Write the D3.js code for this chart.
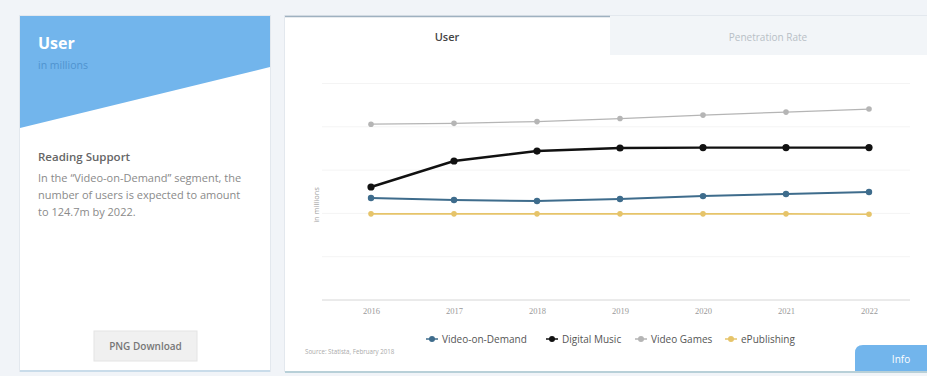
<!DOCTYPE html>
<html>
<head>
<meta charset="utf-8">
<script src="https://cdn.jsdelivr.net/npm/d3@7/dist/d3.min.js"></script>
<style>
  html, body { margin: 0; padding: 0; background: #f1f4f8; }
  svg { display: block; font-family: "Open Sans", "DejaVu Sans", sans-serif; }
</style>
</head>
<body>
<svg id="chart" width="927" height="376"></svg>
<script>
// Users per segment, in millions
const years = ["2016", "2017", "2018", "2019", "2020", "2021", "2022"];
const videoOnDemand = [117.8, 115.5, 114.3, 116.6, 120.0, 122.4, 124.7];
const digitalMusic  = [130.5, 160.5, 172.0, 175.5, 176.0, 176.0, 176.0];
const videoGames    = [203.0, 204.0, 206.0, 209.5, 213.5, 217.0, 220.5];
const ePublishing   = [99.5, 99.5, 99.5, 99.5, 99.5, 99.5, 99.0];
const yTicks = [0, 50, 100, 150, 200, 250];

const series = [
  { name: "Video-on-Demand", values: videoOnDemand, color: "#3e6c8c", width: 2, r: 3.2 },
  { name: "Digital Music",   values: digitalMusic,  color: "#111111", width: 2.4, r: 3.6 },
  { name: "Video Games",     values: videoGames,    color: "#b5b5b5", width: 1.3, r: 2.8 },
  { name: "ePublishing",     values: ePublishing,   color: "#e6c46a", width: 1.6, r: 2.8 }
];

const svg = d3.select("#chart");

// ---- left info card ----
const card = svg.append("g");
card.append("rect").attr("x", 19.5).attr("y", 15.5).attr("width", 251).attr("height", 356)
  .attr("fill", "#ffffff").attr("stroke", "#e3e8ee");
card.append("line").attr("x1", 20).attr("x2", 270).attr("y1", 371).attr("y2", 371)
  .attr("stroke", "#c9dcea").attr("stroke-width", 2);
card.append("path").attr("d", "M20,16 L270,16 L270,67 L20,128 Z").attr("fill", "#72b5ec");
card.append("text").attr("x", 38).attr("y", 49).text("User")
  .attr("fill", "#ffffff").attr("font-size", 16).attr("font-weight", 700);
card.append("text").attr("x", 38).attr("y", 69).text("in millions")
  .attr("fill", "#4f93cf").attr("font-size", 10.5);
card.append("text").attr("x", 38).attr("y", 161).text("Reading Support")
  .attr("fill", "#666666").attr("font-size", 11.5).attr("font-weight", 600);
const para = ["In the \u201cVideo-on-Demand\u201d segment, the",
              "number of users is expected to amount",
              "to 124.7m by 2022."];
para.forEach((t, i) => card.append("text").attr("x", 38).attr("y", 182 + i * 17).text(t)
  .attr("fill", "#8a8a8a").attr("font-size", 11));
card.append("rect").attr("x", 94).attr("y", 331).attr("width", 103).attr("height", 30)
  .attr("fill", "#f0f0f0").attr("stroke", "#e4e4e4");
card.append("text").attr("x", 145.5).attr("y", 350).attr("text-anchor", "middle")
  .text("PNG Download").attr("fill", "#777777").attr("font-size", 10).attr("font-weight", 600);

// ---- right panel with tabs ----
const panel = svg.append("g");
panel.append("rect").attr("x", 284.5).attr("y", 15.5).attr("width", 643).attr("height", 356)
  .attr("fill", "#ffffff").attr("stroke", "#e3e8ee");
panel.append("line").attr("x1", 285).attr("x2", 927).attr("y1", 372).attr("y2", 372)
  .attr("stroke", "#b8d0d8").attr("stroke-width", 2);
panel.append("rect").attr("x", 610).attr("y", 16).attr("width", 317).attr("height", 39)
  .attr("fill", "#f2f5f8");
panel.append("line").attr("x1", 285).attr("x2", 610).attr("y1", 16.5).attr("y2", 16.5)
  .attr("stroke", "#9fb1c0").attr("stroke-width", 1.5);
panel.append("text").attr("x", 447).attr("y", 41).attr("text-anchor", "middle").text("User")
  .attr("fill", "#444444").attr("font-size", 11).attr("font-weight", 600);
panel.append("text").attr("x", 768).attr("y", 41).attr("text-anchor", "middle").text("Penetration Rate")
  .attr("fill", "#b8bfc6").attr("font-size", 10);

// ---- line chart ----
const x = d3.scalePoint().domain(years).range([371, 869]);
const y = d3.scaleLinear().domain([0, 250]).range([300, 83.5]);

const grid = svg.append("g");
grid.selectAll("line").data(yTicks.filter(d => d > 0)).join("line")
  .attr("x1", 322).attr("x2", 910)
  .attr("y1", d => y(d)).attr("y2", d => y(d))
  .attr("stroke", "#f4f4f4").attr("stroke-width", 1);

const xAxis = svg.append("g").attr("transform", "translate(0,300)")
  .call(d3.axisBottom(x).tickSize(0).tickPadding(8));
xAxis.select(".domain").attr("d", "M322,0H910").attr("stroke", "#d6d6d6");
xAxis.selectAll("text").attr("fill", "#9a9a9a").attr("font-size", 8.5)
  .attr("font-family", "Liberation Serif, serif");

svg.append("text").attr("transform", "translate(319,205) rotate(-90)")
  .attr("text-anchor", "middle").text("in millions")
  .attr("fill", "#999999").attr("font-size", 7.5);

const line = d3.line().x((d, i) => x(years[i])).y(d => y(d));
series.forEach(s => {
  const g = svg.append("g");
  g.append("path").datum(s.values).attr("d", line)
    .attr("fill", "none").attr("stroke", s.color).attr("stroke-width", s.width);
  g.selectAll("circle").data(s.values).join("circle")
    .attr("cx", (d, i) => x(years[i])).attr("cy", d => y(d)).attr("r", s.r)
    .attr("fill", s.color);
});

// legend
const legendX = [432, 552, 641, 731];
const legend = svg.append("g");
series.forEach((s, i) => {
  const g = legend.append("g").attr("transform", `translate(${legendX[i]},339)`);
  g.append("line").attr("x1", -6).attr("x2", 6).attr("stroke", s.color).attr("stroke-width", 1.5);
  g.append("circle").attr("r", 3).attr("fill", s.color);
  g.append("text").attr("x", 10).attr("y", 3.5).text(s.name)
    .attr("fill", "#555555").attr("font-size", 10);
});

svg.append("text").attr("x", 305).attr("y", 354).text("Source: Statista, February 2018")
  .attr("fill", "#aaaaaa").attr("font-size", 6.2);

// info button
svg.append("path").attr("d", "M855,353 Q855,345 863,345 L927,345 L927,371 L855,371 Z")
  .attr("fill", "#72b5ec");
svg.append("text").attr("x", 901).attr("y", 363).attr("text-anchor", "middle").text("Info")
  .attr("fill", "#ffffff").attr("font-size", 10);
</script>
</body>
</html>
